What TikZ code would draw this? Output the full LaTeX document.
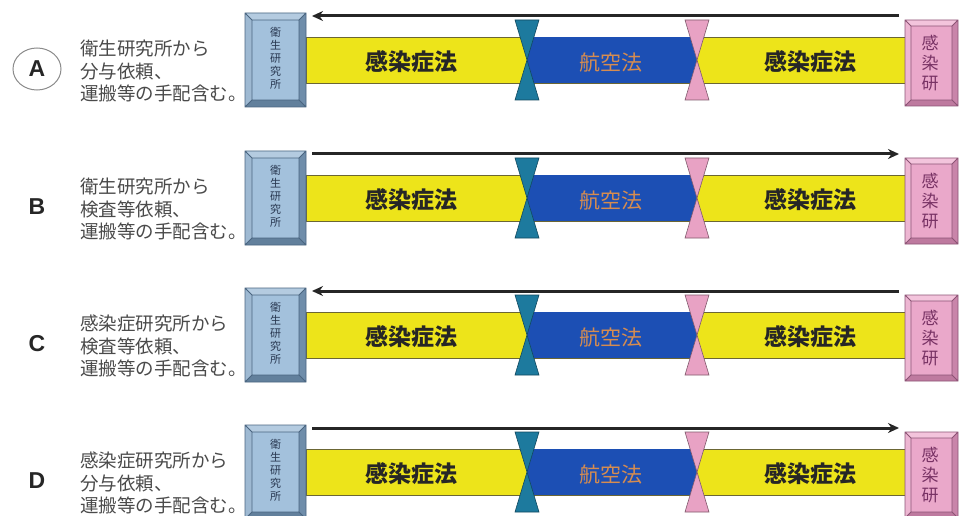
\documentclass[tikz,border=0pt]{standalone}
\usepackage{fontspec}
\newfontfamily\cjk{Noto Sans CJK JP}
\newfontfamily\latinsans{Liberation Sans}
\usetikzlibrary{arrows.meta}
\definecolor{barY}{HTML}{EDE41A}
\definecolor{barYline}{HTML}{6B6634}
\definecolor{barB}{HTML}{1C4FB4}
\definecolor{tealT}{HTML}{1D7A9E}
\definecolor{pinkT}{HTML}{E8A2C4}
\definecolor{lbTop}{HTML}{B4CBE0}
\definecolor{lbLeft}{HTML}{9EB9D2}
\definecolor{lbRight}{HTML}{6F8DAA}
\definecolor{lbBot}{HTML}{62809C}
\definecolor{lbIn}{HTML}{A3C1DC}
\definecolor{lbLine}{HTML}{4A6580}
\definecolor{rbTop}{HTML}{F3C4DC}
\definecolor{rbLeft}{HTML}{EDB6D2}
\definecolor{rbRight}{HTML}{C985AA}
\definecolor{rbBot}{HTML}{BE7A9F}
\definecolor{rbIn}{HTML}{EAA8CA}
\definecolor{rbLine}{HTML}{8C5475}
\definecolor{txtG}{HTML}{4A4A4A}
\tikzset{
  lawtext/.style={font=\cjk\bfseries\fontsize{23}{23}\selectfont, text=black!85},
  airtext/.style={font=\cjk\fontsize{21}{21}\selectfont, text={rgb,255:red,214;green,140;blue,80}},
  desc/.style={font=\cjk\fontsize{18.5}{22.5}\selectfont, text=txtG, align=left, anchor=west, inner sep=0pt},
  lbtext/.style={font=\cjk\fontsize{11}{13}\selectfont, text={rgb,255:red,40;green,55;blue,80}, align=center, inner sep=0pt},
  rbtext/.style={font=\cjk\fontsize{17}{20}\selectfont, text={rgb,255:red,120;green,50;blue,100}, align=center, inner sep=0pt},
  letter/.style={font=\latinsans\bfseries\fontsize{23}{23}\selectfont, text=black!85, inner sep=0pt},
  arr/.style={line width=3pt, draw=black!85},
}
\begin{document}
\begin{tikzpicture}[x=1pt,y=-1pt]
\useasboundingbox (0,0) rectangle (959,516);
\fill[white] (0,0) rectangle (959,516);
\foreach \i/\c/\la/\lb in {A/60/衛生研究所から/分与依頼、, B/198/衛生研究所から/検査等依頼、, C/335/感染症研究所から/検査等依頼、, D/472/感染症研究所から/分与依頼、}{
  % bars
  \filldraw[fill=barY, draw=barYline, line width=0.8pt] (306,\c-23) rectangle (905,\c+23);
  \fill[barB] (527,\c-23) rectangle (697,\c+23);
  % bowties
  \filldraw[fill=tealT, draw=tealT!60!black, line width=0.6pt] (515,\c-40) -- (539,\c-40) -- (527,\c) -- (539,\c+40) -- (515,\c+40) -- (527,\c) -- cycle;
  \filldraw[fill=pinkT, draw=pinkT!55!black, line width=0.6pt] (685,\c-40) -- (709,\c-40) -- (697,\c) -- (709,\c+40) -- (685,\c+40) -- (697,\c) -- cycle;
  % left bevel box
  \fill[lbTop] (245,\c-47) -- (306,\c-47) -- (299,\c-40) -- (252,\c-40) -- cycle;
  \fill[lbLeft] (245,\c-47) -- (252,\c-40) -- (252,\c+40) -- (245,\c+47) -- cycle;
  \fill[lbRight] (306,\c-47) -- (306,\c+47) -- (299,\c+40) -- (299,\c-40) -- cycle;
  \fill[lbBot] (245,\c+47) -- (306,\c+47) -- (299,\c+40) -- (252,\c+40) -- cycle;
  \fill[lbIn] (252,\c-40) rectangle (299,\c+40);
  \draw[lbLine, line width=0.8pt] (245,\c-47) rectangle (306,\c+47) (252,\c-40) rectangle (299,\c+40)
     (245,\c-47) -- (252,\c-40) (306,\c-47) -- (299,\c-40) (245,\c+47) -- (252,\c+40) (306,\c+47) -- (299,\c+40);
  % right bevel box
  \fill[rbTop] (905,\c-40) -- (958,\c-40) -- (952,\c-34) -- (911,\c-34) -- cycle;
  \fill[rbLeft] (905,\c-40) -- (911,\c-34) -- (911,\c+40) -- (905,\c+46) -- cycle;
  \fill[rbRight] (958,\c-40) -- (958,\c+46) -- (952,\c+40) -- (952,\c-34) -- cycle;
  \fill[rbBot] (905,\c+46) -- (958,\c+46) -- (952,\c+40) -- (911,\c+40) -- cycle;
  \fill[rbIn] (911,\c-34) rectangle (952,\c+40);
  \draw[rbLine, line width=0.8pt] (905,\c-40) rectangle (958,\c+46) (911,\c-34) rectangle (952,\c+40)
     (905,\c-40) -- (911,\c-34) (958,\c-40) -- (952,\c-34) (905,\c+46) -- (911,\c+40) (958,\c+46) -- (952,\c+40);
  % texts
  \node[lbtext] (L\i) at (275.5,\c-2) {衛\\生\\研\\究\\所};
  \node[rbtext] (R\i) at (930,\c+3) {感\\染\\研};
  \node[lawtext] (lawL\i) at (411,\c+2) {感染症法};
  \node[airtext] (air\i) at (611,\c+3) {航空法};
  \node[lawtext] (lawR\i) at (810,\c+2) {感染症法};
  \node[desc] (d\i) at (80,\c+11) {\la\\\lb\\運搬等の手配含む。};
  \node[letter] (lab\i) at (37,\c+9) {\i};
  \coordinate (s\i) at (312,\c-44);
  \coordinate (e\i) at (899,\c-44);
}
\draw[line width=1pt, draw=black!45] (labA) ellipse [x radius=24, y radius=21];
\draw[arr, -{Stealth[length=11pt,width=10pt]}] (eA) -- (sA);
\draw[arr, -{Stealth[length=11pt,width=10pt]}] (sB) -- (eB);
\draw[arr, -{Stealth[length=11pt,width=10pt]}] (eC) -- (sC);
\draw[arr, -{Stealth[length=11pt,width=10pt]}] (sD) -- (eD);
\end{tikzpicture}
\end{document}
